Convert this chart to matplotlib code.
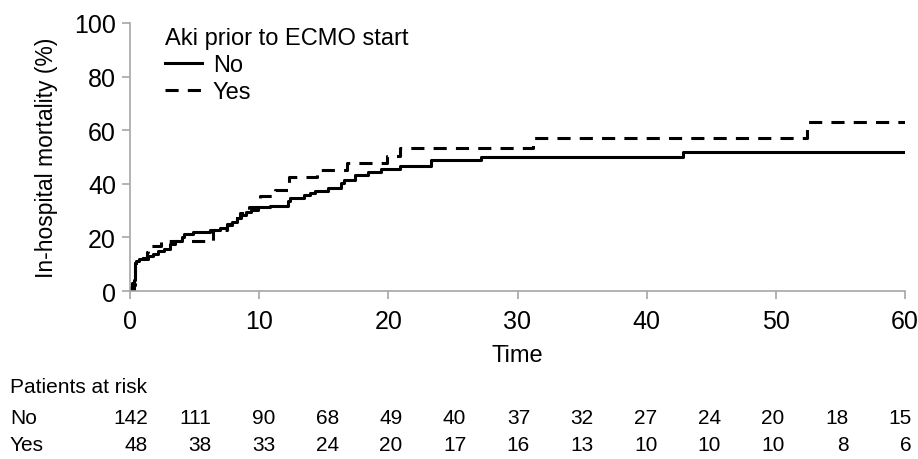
import numpy as np
import matplotlib.pyplot as plt

plt.rcParams['font.family'] = ['Liberation Sans', 'DejaVu Sans']

# cumulative in-hospital mortality (%)
no_time = [0, 0.05, 0.15, 0.3, 0.38, 0.42, 0.5, 0.7, 1.4, 1.8, 2.2, 2.6, 3.1, 3.5,
           4.0, 4.2, 4.9, 6.2, 7.0, 7.5, 7.9, 8.3, 8.6, 9.0, 9.4, 9.9, 10.8, 12.2,
           12.4, 13.5, 13.9, 14.3, 15.3, 16.3, 16.6, 17.4, 18.4, 19.4, 20.9, 23.3,
           27.2, 42.8, 60]
no_mort = [0, 1.4, 2.8, 4.2, 7.7, 10.6, 11.3, 12.0, 13.2, 13.9, 15.0, 15.6, 17.4, 18.8,
           20.3, 21.3, 21.9, 22.7, 23.4, 24.6, 25.9, 27.1, 28.4, 29.4, 30.3, 31.2, 31.8, 33.7,
           34.6, 35.8, 36.6, 37.4, 38.3, 40.3, 41.5, 43.3, 44.3, 45.5, 46.5, 48.9,
           49.9, 51.7, 51.7]

yes_time = [0, 0.3, 0.42, 0.7, 1.3, 1.4, 2.4, 6.4, 7.5, 8.0, 8.5, 9.2, 10.1, 11.2,
            12.3, 14.5, 16.8, 19.9, 20.9, 31.2, 52.4, 60]
yes_mort = [0, 2.1, 10.4, 12.5, 14.6, 16.7, 18.8, 22.9, 25.0, 27.1, 29.2, 31.2, 35.4, 37.8,
            42.5, 45.1, 47.8, 50.5, 53.4, 57.1, 62.9, 62.9]

risk_times = [0, 5, 10, 15, 20, 25, 30, 35, 40, 45, 50, 55, 60]
risk_no = [142, 111, 90, 68, 49, 40, 37, 32, 27, 24, 20, 18, 15]
risk_yes = [48, 38, 33, 24, 20, 17, 16, 13, 10, 10, 10, 8, 6]

W, H = 918, 460
fig = plt.figure(figsize=(W / 100, H / 100), dpi=100)
ax = fig.add_axes([130 / W, 1 - 292 / H, 775 / W, 268 / H])

ax.step(no_time, no_mort, where='post', color='black', lw=2.2, label='No')
ax.step(yes_time, yes_mort, where='post', color='black', lw=2.2,
        linestyle=(0, (4.3, 3.0)), label='Yes')

ax.set_xlim(0, 60)
ax.set_ylim(0, 100)
ax.set_xticks(range(0, 61, 10))
ax.set_yticks(range(0, 101, 20))
for side in ['top', 'right']:
    ax.spines[side].set_visible(False)
for side in ['left', 'bottom']:
    ax.spines[side].set_color('#a6a6a6')
    ax.spines[side].set_linewidth(1.2)
ax.tick_params(colors='#a6a6a6', labelcolor='black', length=6, width=1.2, direction='out')
ax.tick_params(axis='y', labelsize=18, pad=4)
ax.tick_params(axis='x', labelsize=18, pad=7)
ax.set_xlabel('Time', fontsize=17, labelpad=8)
ax.set_ylabel('In-hospital mortality (%)', fontsize=16.5, labelpad=12)

leg = ax.legend(title='Aki prior to ECMO start', loc='upper left', frameon=False,
                fontsize=17, title_fontsize=17, handlelength=1.55, handletextpad=0.45,
                labelspacing=0.2, borderaxespad=0, alignment='left',
                bbox_to_anchor=(26 / 775, 1 + 5 / 268))

# patients at risk table
fig.text(10 / W, 1 - 388 / H, 'Patients at risk', fontsize=15, va='center')
fig.text(10 / W, 1 - 419 / H, 'No', fontsize=15, va='center')
fig.text(10 / W, 1 - 446 / H, 'Yes', fontsize=15, va='center')
for i, t in enumerate(risk_times):
    xr = (148 + 63.67 * i) / W
    fig.text(xr, 1 - 419 / H, str(risk_no[i]), fontsize=15, va='center', ha='right')
    fig.text(xr, 1 - 446 / H, str(risk_yes[i]), fontsize=15, va='center', ha='right')

fig.savefig('out.png', dpi=100)
